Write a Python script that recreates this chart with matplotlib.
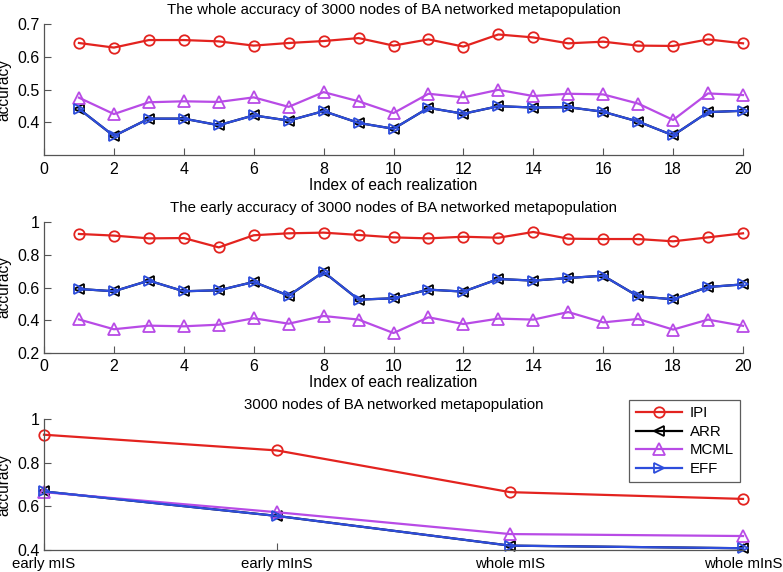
import matplotlib
matplotlib.use("Agg")
import matplotlib.pyplot as plt
import numpy as np

plt.rcParams['font.family'] = ['Liberation Sans', 'DejaVu Sans']
plt.rcParams['font.size'] = 10

# ---------------- data ----------------
realization = list(range(1, 21))

whole_ipi = [0.642, 0.628, 0.651, 0.651, 0.647, 0.634, 0.642, 0.648, 0.657, 0.634,
             0.653, 0.631, 0.668, 0.659, 0.641, 0.646, 0.634, 0.633, 0.653, 0.641]
whole_arr = [0.441, 0.358, 0.411, 0.411, 0.391, 0.421, 0.405, 0.434, 0.398, 0.380,
             0.444, 0.426, 0.449, 0.445, 0.446, 0.432, 0.402, 0.360, 0.431, 0.435]
whole_mcml = [0.475, 0.425, 0.461, 0.464, 0.462, 0.476, 0.447, 0.492, 0.464, 0.428,
              0.487, 0.476, 0.499, 0.480, 0.487, 0.485, 0.457, 0.407, 0.488, 0.483]
whole_eff = [0.441, 0.358, 0.411, 0.411, 0.391, 0.421, 0.405, 0.434, 0.398, 0.380,
             0.444, 0.426, 0.449, 0.445, 0.446, 0.432, 0.402, 0.360, 0.431, 0.435]

early_ipi = [0.927, 0.917, 0.900, 0.902, 0.845, 0.919, 0.931, 0.935, 0.921, 0.906,
             0.900, 0.910, 0.904, 0.939, 0.898, 0.896, 0.896, 0.882, 0.906, 0.931]
early_arr = [0.591, 0.577, 0.642, 0.577, 0.583, 0.634, 0.550, 0.695, 0.526, 0.534,
             0.587, 0.575, 0.652, 0.642, 0.658, 0.672, 0.546, 0.528, 0.603, 0.619]
early_mcml = [0.405, 0.345, 0.367, 0.363, 0.373, 0.412, 0.379, 0.426, 0.404, 0.322,
              0.418, 0.377, 0.410, 0.404, 0.450, 0.387, 0.408, 0.343, 0.404, 0.366]
early_eff = [0.591, 0.577, 0.642, 0.577, 0.583, 0.634, 0.550, 0.695, 0.526, 0.534,
             0.587, 0.575, 0.652, 0.642, 0.658, 0.672, 0.546, 0.528, 0.603, 0.619]

summary_labels = ['early mIS', 'early mInS', 'whole mIS', 'whole mInS']
summary_ipi = [0.928, 0.856, 0.665, 0.634]
summary_arr = [0.668, 0.556, 0.420, 0.408]
summary_mcml = [0.665, 0.573, 0.473, 0.464]
summary_eff = [0.668, 0.556, 0.420, 0.408]

series_names = ['IPI', 'ARR', 'MCML', 'EFF']

# ---------------- style ----------------
RED = '#e3231f'
BLACK = '#000000'
PURPLE = '#b84be6'
BLUE = '#2d4ddc'
SPINE = '#555555'

TITLE_FS = 10.8
LABEL_FS = 11.2
TICK_FS = 11.5
CAT_FS = 10.8
LEG_FS = 10.8

styles = {
    'IPI': dict(color=RED, marker='o', ms=7.5),
    'ARR': dict(color=BLACK, marker='<', ms=7.5),
    'MCML': dict(color=PURPLE, marker='^', ms=8),
    'EFF': dict(color=BLUE, marker='>', ms=7.5),
}

W, H = 783, 572
fig = plt.figure(figsize=(W / 100, H / 100), dpi=100)

def axes_rect(top_px, bottom_px, left_px=44, right_px=743):
    return [left_px / W, 1 - bottom_px / H, (right_px - left_px) / W, (bottom_px - top_px) / H]

def style_axes(ax):
    for s in ['top', 'right']:
        ax.spines[s].set_visible(False)
    for s in ['left', 'bottom']:
        ax.spines[s].set_color(SPINE)
        ax.spines[s].set_linewidth(0.9)
    ax.tick_params(direction='in', length=5, width=0.8, color=SPINE, labelsize=TICK_FS)

def draw(ax, x, data):
    handles = []
    for name, vals in zip(series_names, data):
        st = styles[name]
        h, = ax.plot(x, vals, color=st['color'], lw=1.6, marker=st['marker'],
                     ms=st['ms'], mfc='none', mec=st['color'], mew=1.3, label=name,
                     clip_on=False)
        handles.append(h)
    return handles

# top
ax1 = fig.add_axes(axes_rect(24, 155))
draw(ax1, realization, [whole_ipi, whole_arr, whole_mcml, whole_eff])
ax1.set_xlim(0, 20)
ax1.set_ylim(0.3, 0.7)
ax1.set_xticks(range(0, 21, 2))
ax1.set_yticks([0.4, 0.5, 0.6, 0.7])
ax1.set_yticklabels(['0.4', '0.5', '0.6', '0.7'])
style_axes(ax1)
ax1.tick_params(axis='x', pad=5)
ax1.tick_params(axis='y', pad=3)
ax1.set_title('The whole accuracy of 3000 nodes of BA networked metapopulation', pad=7, fontsize=TITLE_FS)
ax1.set_xlabel('Index of each realization', labelpad=1, fontsize=LABEL_FS)
ax1.set_ylabel('accuracy', fontsize=LABEL_FS)
ax1.yaxis.set_label_coords(-0.047, 0.5)

# middle
ax2 = fig.add_axes(axes_rect(222, 353))
draw(ax2, realization, [early_ipi, early_arr, early_mcml, early_eff])
ax2.set_xlim(0, 20)
ax2.set_ylim(0.2, 1.0)
ax2.set_xticks(range(0, 21, 2))
ax2.set_yticks([0.2, 0.4, 0.6, 0.8, 1.0])
ax2.set_yticklabels(['0.2', '0.4', '0.6', '0.8', '1'])
style_axes(ax2)
ax2.tick_params(axis='x', pad=4)
ax2.tick_params(axis='y', pad=3)
ax2.set_title('The early accuracy of 3000 nodes of BA networked metapopulation', pad=7, fontsize=TITLE_FS)
ax2.set_xlabel('Index of each realization', labelpad=1, fontsize=LABEL_FS)
ax2.set_ylabel('accuracy', fontsize=LABEL_FS)
ax2.yaxis.set_label_coords(-0.047, 0.5)

# bottom
ax3 = fig.add_axes(axes_rect(419, 550))
xs = np.arange(1, len(summary_labels) + 1)
handles = draw(ax3, xs, [summary_ipi, summary_arr, summary_mcml, summary_eff])
ax3.set_xlim(1, 4)
ax3.set_ylim(0.4, 1.0)
ax3.set_xticks(xs)
ax3.set_xticklabels(summary_labels)
ax3.set_yticks([0.4, 0.6, 0.8, 1.0])
ax3.set_yticklabels(['0.4', '0.6', '0.8', '1'])
style_axes(ax3)
ax3.tick_params(axis='x', pad=5, labelsize=CAT_FS)
ax3.tick_params(axis='y', pad=3)
ax3.set_title('3000 nodes of BA networked metapopulation', pad=7, fontsize=TITLE_FS)
ax3.set_ylabel('accuracy', fontsize=LABEL_FS)
ax3.yaxis.set_label_coords(-0.047, 0.5)

leg = ax3.legend(handles=handles, loc='upper right', bbox_to_anchor=(0.9957, 1.145),
                 frameon=True, fancybox=False, edgecolor='#333333', fontsize=LEG_FS,
                 handlelength=3.1, handletextpad=0.5, labelspacing=0.3,
                 borderpad=0.42, borderaxespad=0.0)
leg.get_frame().set_linewidth(0.9)

fig.savefig('out.png', dpi=100)
